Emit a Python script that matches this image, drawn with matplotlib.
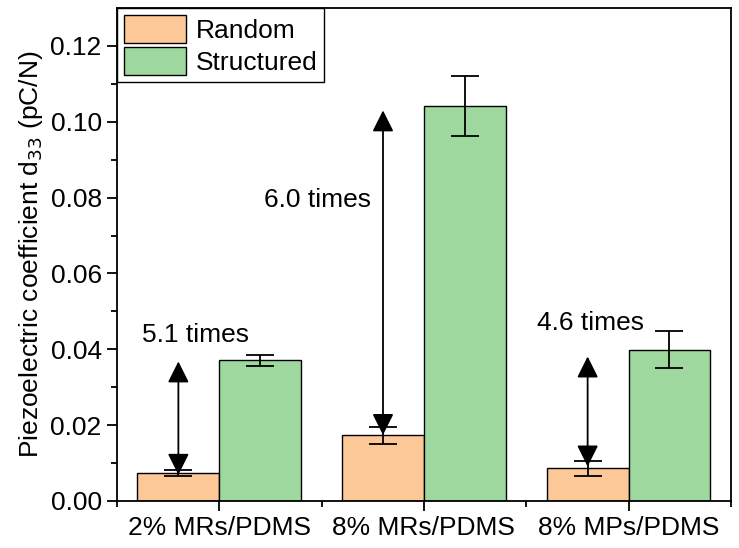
import matplotlib
matplotlib.use("Agg")
import matplotlib.pyplot as plt
import numpy as np

categories = ["2% MRs/PDMS", "8% MRs/PDMS", "8% MPs/PDMS"]
random_vals = [0.0073, 0.0173, 0.0086]
random_err = [0.0008, 0.0023, 0.0020]
struct_vals = [0.0371, 0.1042, 0.0399]
struct_err = [0.0015, 0.0079, 0.0048]
labels = ["5.1 times", "6.0 times", "4.6 times"]
arrow_top = [0.0368, 0.1030, 0.0381]
arrow_bottom = [0.0069, 0.0174, 0.0091]
label_x = [0.624, 1.22, 2.551]
label_y = [0.0438, 0.0794, 0.0470]

plt.rcParams['font.family'] = ['Liberation Sans', 'DejaVu Sans']
fs = 19

fig = plt.figure(figsize=(7.39, 5.48), dpi=100)
ax = fig.add_axes([0.1583, 0.0858, 0.8307, 0.8996])

x = np.arange(len(categories)) + 1
w = 0.4
c_rand = '#FDC897'
c_str = '#9ED89E'
ax.bar(x - w/2, random_vals, w, color=c_rand, edgecolor='black', linewidth=1.0,
       label='Random', zorder=2)
ax.bar(x + w/2, struct_vals, w, color=c_str, edgecolor='black', linewidth=1.0,
       label='Structured', zorder=2)
ax.errorbar(x - w/2, random_vals, yerr=random_err, fmt='none', ecolor='black',
            elinewidth=1.3, capsize=10, capthick=1.3, zorder=3)
ax.errorbar(x + w/2, struct_vals, yerr=struct_err, fmt='none', ecolor='black',
            elinewidth=1.3, capsize=10, capthick=1.3, zorder=3)

for i in range(len(categories)):
    ax.annotate('', xy=(x[i] - w/2, arrow_top[i]), xytext=(x[i] - w/2, arrow_bottom[i]),
                arrowprops=dict(arrowstyle='<|-|>,head_length=1.0,head_width=0.5',
                                mutation_scale=13, color='black', lw=1.3,
                                shrinkA=0, shrinkB=0), zorder=4)
    ax.text(label_x[i], label_y[i], labels[i], fontsize=fs, ha='left', va='center')

ax.set_xlim(0.5, 3.5)
ax.set_ylim(0, 0.13)
ax.set_xticks(x)
ax.set_xticklabels(categories, fontsize=fs)
ax.set_xticks([0.5, 1.5, 2.5, 3.5], minor=True)
ax.set_yticks(np.arange(0, 0.121, 0.02))
ax.set_yticklabels([f"{v:.2f}" for v in np.arange(0, 0.121, 0.02)], fontsize=fs)
ax.set_yticks(np.arange(0.01, 0.13, 0.02), minor=True)
ax.tick_params(axis='both', which='major', direction='out', length=7, width=1.3, pad=4)
ax.tick_params(axis='both', which='minor', direction='out', length=4, width=1.3)
ax.tick_params(top=False, right=False)
for s in ax.spines.values():
    s.set_linewidth(1.3)

ax.set_ylabel("Piezoelectric coefficient d$_{33}$ (pC/N)", fontsize=fs, labelpad=4)

leg = ax.legend(loc='upper left', fontsize=fs, frameon=True, fancybox=False,
                edgecolor='black', framealpha=1, borderaxespad=0, handlelength=2.35,
                handleheight=1.3, handletextpad=0.4, labelspacing=0.12, borderpad=0.25)
leg.get_frame().set_linewidth(1.0)

fig.savefig("out.png", dpi=100)
